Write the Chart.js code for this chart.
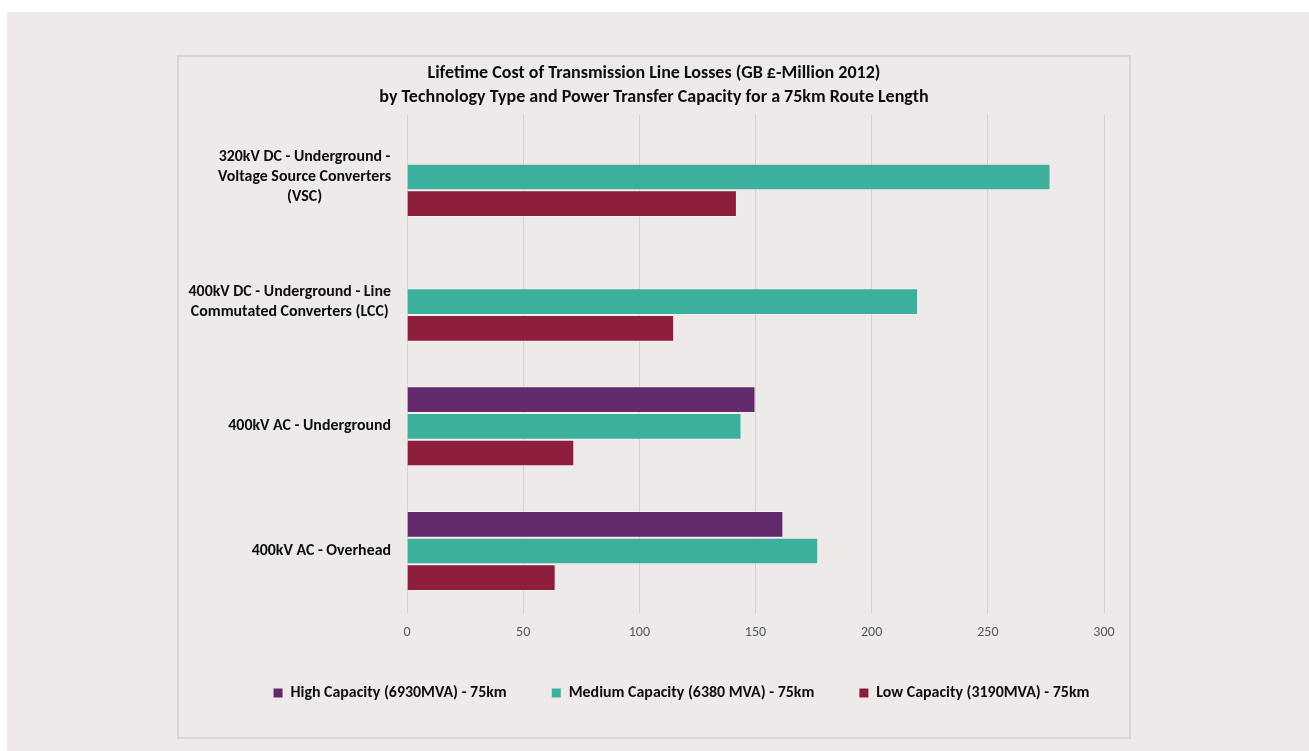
<!DOCTYPE html>
<html><head><meta charset="utf-8">
<script src="https://cdn.jsdelivr.net/npm/chart.js@4.4.1/dist/chart.umd.min.js"></script>
<style>
html,body{margin:0;padding:0;background:#fff;width:1309px;height:751px;overflow:hidden}
#bg{position:absolute;left:7px;top:12px;width:1302px;height:739px;background:#edeae9}
#frame{position:absolute;left:177px;top:55px;width:954px;height:684px;box-sizing:border-box;border:2px solid #d9d6d5}
#wrap{position:absolute;left:0;top:0;width:1309px;height:751px}
</style></head><body>
<div id="bg"></div><div id="frame"></div>
<div id="wrap"><canvas id="c"></canvas></div>
<script>
const categories = [
  ["320kV DC - Underground -", "Voltage Source Converters", "(VSC)"],
  ["400kV DC - Underground - Line", "Commutated Converters (LCC)"],
  ["400kV AC - Underground"],
  ["400kV AC - Overhead"]
];
const seriesNames = ["High Capacity (6930MVA) - 75km", "Medium Capacity (6380 MVA) - 75km", "Low Capacity (3190MVA) - 75km"];
const highCapacity = [null, null, 150, 162];
const mediumCapacity = [277, 220, 144, 177];
const lowCapacity = [142, 115, 72, 64];
const xTicks = [0, 50, 100, 150, 200, 250, 300];
const titleLines = ["Lifetime Cost of Transmission Line Losses (GB £-Million 2012)", "by Technology Type and Power Transfer Capacity for a 75km Route Length"];

const FAMILY = "Carlito, Lato, 'Open Sans', sans-serif";
Chart.defaults.font.family = FAMILY;

const catLabelPlugin = {
  id: 'catLabels',
  afterDraw(chart) {
    const ys = chart.scales.y, ctx = chart.ctx;
    ctx.save();
    ctx.font = "bold 15.9px " + FAMILY;
    ctx.fillStyle = '#0d0d0d';
    ctx.textAlign = 'center';
    ctx.textBaseline = 'middle';
    const right = chart.chartArea.left - 16, lh = 19.8;
    categories.forEach((lines, i) => {
      const yc = ys.getPixelForValue(i);
      const w = Math.max(...lines.map(s => ctx.measureText(s).width));
      lines.forEach((s, j) => ctx.fillText(s, right - w / 2, yc + (j - (lines.length - 1) / 2) * lh));
    });
    ctx.restore();
  }
};
const shiftPlugin = {
  id: 'shift',
  afterLayout(chart) {
    const t = chart.titleBlock;
    if (t) { const d = 654 - (t.left + t.right) / 2; t.left += d; t.right += d; }
    const l = chart.legend;
    if (l) { const d = 681.5 - (l.left + l.right) / 2; l.left += d; l.right += d; }
  }
};

new Chart(document.getElementById('c'), {
  type: 'bar',
  data: {
    labels: categories,
    datasets: [
      {label: seriesNames[0], data: highCapacity, backgroundColor: '#632b6c'},
      {label: seriesNames[1], data: mediumCapacity, backgroundColor: '#3cb09d'},
      {label: seriesNames[2], data: lowCapacity, backgroundColor: '#8e1f3c'}
    ].map(d => Object.assign(d, {borderColor: 'rgba(255,255,255,0.35)', borderWidth: 1, categoryPercentage: 0.642, barPercentage: 1.0}))
  },
  options: {
    indexAxis: 'y',
    responsive: true,
    maintainAspectRatio: false,
    animation: false,
    layout: {padding: {left: 177, right: 205, top: 62, bottom: 40.05}},
    scales: {
      x: {
        min: 0, max: 300,
        afterBuildTicks: s => { s.ticks = xTicks.map(v => ({value: v})); },
        afterFit: s => { s.height = 26.75; },
        ticks: {color: '#595959', font: {size: 14}, padding: 10.5},
        grid: {color: '#d5d1d0', drawTicks: false, lineWidth: 1},
        border: {display: false}
      },
      y: {
        type: 'category',
        ticks: {display: false},
        grid: {display: false},
        border: {display: false},
        afterFit: s => { s.width = 230; }
      }
    },
    plugins: {
      title: {
        display: true, text: titleLines, color: '#0d0d0d',
        font: {size: 18, weight: 'bold', lineHeight: 1.3333},
        padding: {top: 0, bottom: 4.7}
      },
      legend: {
        position: 'bottom',
        labels: {
          boxWidth: 9, boxHeight: 9, padding: 45, color: '#0d0d0d',
          font: {size: 15.9, weight: 'bold'},
          generateLabels: chart => Chart.defaults.plugins.legend.labels.generateLabels(chart).map(it => Object.assign(it, {lineWidth: 0}))
        }
      },
      tooltip: {enabled: false}
    }
  },
  plugins: [shiftPlugin, catLabelPlugin]
});
</script>
</body></html>
